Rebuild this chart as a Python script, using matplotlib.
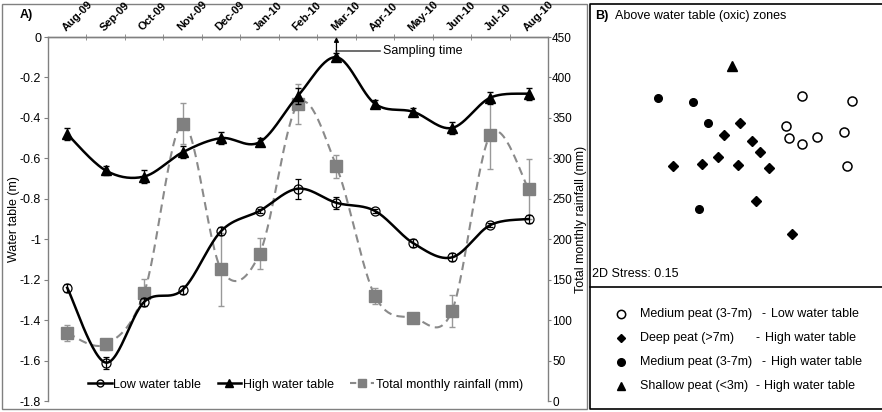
import numpy as np
import matplotlib
matplotlib.use("Agg")
import matplotlib.pyplot as plt
from matplotlib.lines import Line2D
from matplotlib.patches import Rectangle

plt.rcParams['font.family'] = ['Liberation Sans', 'DejaVu Sans']
plt.rcParams['font.size'] = 9

# ---- panel A data ----
months = ['Aug-09', 'Sep-09', 'Oct-09', 'Nov-09', 'Dec-09', 'Jan-10', 'Feb-10',
          'Mar-10', 'Apr-10', 'May-10', 'Jun-10', 'Jul-10', 'Aug-10']
low_wt = [-1.24, -1.61, -1.31, -1.25, -0.96, -0.86, -0.75, -0.82, -0.86, -1.02, -1.09, -0.93, -0.90]
low_err = [0.02, 0.03, 0.02, 0.02, 0.02, 0.01, 0.05, 0.03, 0.01, 0.02, 0.02, 0.01, 0.02]
high_wt = [-0.48, -0.66, -0.69, -0.57, -0.50, -0.52, -0.29, -0.10, -0.33, -0.37, -0.45, -0.30, -0.28]
high_err = [0.03, 0.02, 0.03, 0.03, 0.03, 0.02, 0.04, 0.02, 0.02, 0.02, 0.03, 0.03, 0.03]
rain = [84, 70, 134, 343, 163, 182, 367, 290, 130, 103, 111, 329, 262]
rain_err = [10, 7, 17, 25, 45, 19, 25, 14, 10, 2, 20, 42, 37]
sampling_month = 'Mar-10'

# ---- panel B data (NMDS ordination) ----
med_low_x = [0.42, 0.92, 0.26, 0.29, 0.42, 0.57, 0.84, 0.87]
med_low_y = [0.54, 0.49, 0.24, 0.12, 0.06, 0.13, 0.18, -0.16]
deep_high_x = [-0.20, -0.36, -0.08, 0.00, -0.42, -0.87, -0.58, -0.22, 0.09, -0.04, 0.32]
deep_high_y = [0.27, 0.15, 0.09, -0.02, -0.07, -0.16, -0.14, -0.15, -0.18, -0.51, -0.84]
med_high_x = [-1.02, -0.67, -0.52, -0.61]
med_high_y = [0.52, 0.48, 0.27, -0.59]
shallow_high_x = [-0.28]
shallow_high_y = [0.84]
stress = 0.15


def smooth(x, y, n=30):
    # excel-like smoothed line (catmull-rom as bezier)
    p = np.column_stack([x, y]).astype(float)
    out = []
    for i in range(len(p) - 1):
        p0 = p[i - 1] if i > 0 else p[i]
        p1, p2 = p[i], p[i + 1]
        p3 = p[i + 2] if i + 2 < len(p) else p[i + 1]
        c1 = p1 + (p2 - p0) / 6
        c2 = p2 - (p3 - p1) / 6
        t = np.linspace(0, 1, n)[:, None]
        seg = (1 - t) ** 3 * p1 + 3 * (1 - t) ** 2 * t * c1 + 3 * (1 - t) * t ** 2 * c2 + t ** 3 * p2
        out.append(seg if i == 0 else seg[1:])
    s = np.vstack(out)
    return s[:, 0], s[:, 1]


W, H = 882, 412
fig = plt.figure(figsize=(W / 100, H / 100), dpi=100)


def box(x0, y0, x1, y1):
    # pixel box (top-left origin) -> figure fraction
    return [x0 / W, 1 - y1 / H, (x1 - x0) / W, (y1 - y0) / H]


grey = '#808080'
xs = np.arange(len(months))

ax = fig.add_axes(box(48, 37, 548, 401))
ax2 = ax.twinx()
ax.set_zorder(ax2.get_zorder() + 1)
ax.patch.set_visible(False)

# rainfall on secondary axis
rx, ry = smooth(xs, rain)
ax2.plot(rx, ry, color='#8a8a8a', lw=1.5, ls=(0, (4, 2.5)))
ax2.errorbar(xs, rain, yerr=rain_err, fmt='s', color=grey, ms=8, ecolor='#999999',
             elinewidth=1, capsize=2)
ax2.set_ylim(0, 450)
ax2.set_yticks(np.arange(0, 451, 50))
ax2.set_ylabel('Total monthly rainfall (mm)')
ax2.yaxis.set_label_coords(1.054, 0.5)

# water table lines
lx, ly = smooth(xs, low_wt)
ax.plot(lx, ly, color='black', lw=1.8)
ax.errorbar(xs, low_wt, yerr=low_err, fmt='o', mfc='none', mec='black', color='black',
            ms=6.5, mew=0.9, elinewidth=0.9, capsize=2)
hx, hy = smooth(xs, high_wt)
ax.plot(hx, hy, color='black', lw=1.8)
ax.errorbar(xs, high_wt, yerr=high_err, fmt='^', color='black', ms=7,
            elinewidth=0.9, capsize=2)

ax.set_xlim(-0.5, len(months) - 0.5)
ax.set_ylim(-1.8, 0)
yt = np.round(np.arange(-1.8, 0.01, 0.2), 1)
ax.set_yticks(yt)
ax.set_yticklabels(['0' if v == 0 else f'{v:g}' for v in yt])
ax.set_ylabel('Water table (m)')
ax.yaxis.set_label_coords(-0.056, 0.5)

ax.xaxis.tick_top()
ax.set_xticks(xs)
ax.set_xticklabels(months, rotation=45, ha='left', va='bottom', rotation_mode='anchor',
                   fontsize=8, fontweight='bold')
ax.tick_params(axis='x', which='major', length=0, pad=3)
ax.set_xticks(xs[:-1] + 0.5, minor=True)
ax.tick_params(axis='x', which='minor', length=5, direction='inout', color=grey, top=True, bottom=False)
ax.tick_params(axis='y', length=3, color=grey, pad=2)
ax2.tick_params(axis='y', length=2, color=grey, pad=1, labelsize=8.5)

for a in (ax, ax2):
    a.spines['bottom'].set_visible(False)
    for s in ('left', 'right', 'top'):
        a.spines[s].set_color(grey)
        a.spines[s].set_linewidth(1)
ax.spines['right'].set_visible(False)
ax2.spines['left'].set_visible(False)

# sampling time marker
si = months.index(sampling_month)
ax.annotate('', xy=(si, 0), xytext=(si, -0.075),
            arrowprops=dict(arrowstyle='-|>', color='black', lw=0.9, mutation_scale=7,
                            shrinkA=0, shrinkB=0))
ax.plot([si, si + 1.14], [-0.07, -0.07], color='#555555', lw=1.2, clip_on=False)
ax.text(si + 1.2, -0.07, 'Sampling time', va='center', ha='left')

handles = [
    Line2D([], [], color='black', lw=1.8, marker='o', mfc='none', mec='black', ms=5),
    Line2D([], [], color='black', lw=1.8, marker='^', ms=5.5),
    Line2D([], [], color='#8a8a8a', lw=1.5, ls=(0, (3, 2)), marker='s', ms=5.5, mfc=grey, mec=grey),
]
ax.legend(handles, ['Low water table', 'High water table', 'Total monthly rainfall (mm)'],
          loc='center', bbox_to_anchor=(0.515, 0.045), ncol=3, frameon=False,
          handlelength=1.9, handletextpad=0.15, columnspacing=1.3, fontsize=9)

fig.text(20 / W, 1 - 15 / H, 'A)', fontweight='bold', va='center', ha='left')

# ---- panel B ----
axb = fig.add_axes(box(590, 4, 882, 287))
axb.axis('off')
axb.set_xlim(-1.70, 1.22)
axb.set_ylim(-1.37, 1.46)
axb.plot(med_low_x, med_low_y, 'o', mfc='white', mec='black', ms=6.5, mew=1.1)
axb.plot(deep_high_x, deep_high_y, 'D', color='black', ms=5)
axb.plot(med_high_x, med_high_y, 'o', color='black', ms=5.5)
axb.plot(shallow_high_x, shallow_high_y, '^', color='black', ms=6.5)

fig.text(595 / W, 1 - 16 / H, 'B)', fontweight='bold', va='center', ha='left')
fig.text(615 / W, 1 - 16 / H, 'Above water table (oxic) zones', va='center', ha='left')
fig.text(592 / W, 1 - 274 / H, f'2D Stress: {stress}', va='center', ha='left')

axl = fig.add_axes(box(590, 287, 882, 409))
axl.axis('off')
axl.set_xlim(590, 882)
axl.set_ylim(409, 287)
leg_rows = [
    ('o', dict(mfc='white', mec='black', ms=6, mew=1.1), 'Medium peat (3-7m)', 'Low water table', 762),
    ('D', dict(color='black', ms=4.5), 'Deep peat (>7m)', 'High water table', 756),
    ('o', dict(color='black', ms=5.5), 'Medium peat (3-7m)', 'High water table', 762),
    ('^', dict(color='black', ms=6), 'Shallow peat (<3m)', 'High water table', 755),
]
for k, (m, kw, name, wt, dash_x) in enumerate(leg_rows):
    yy = 314 + 24 * k
    axl.plot([621], [yy], m, **kw)
    axl.text(640, yy, name, va='center', ha='left')
    axl.text(dash_x, yy, '-', va='center', ha='left')
    axl.text(dash_x + 9, yy, wt, va='center', ha='left')

# panel frames
frame = fig.add_axes([0, 0, 1, 1], zorder=-1)
frame.axis('off')
frame.set_xlim(0, W)
frame.set_ylim(H, 0)
frame.add_patch(Rectangle((2, 4), 585, 405, fill=False, ec=grey, lw=1))
frame.plot([882, 589.5, 589.5, 882], [3.5, 3.5, 409, 409], color='black', lw=1.2)
frame.plot([589.5, 882], [287, 287], color='black', lw=1.2)

fig.savefig('out.png', dpi=100)
